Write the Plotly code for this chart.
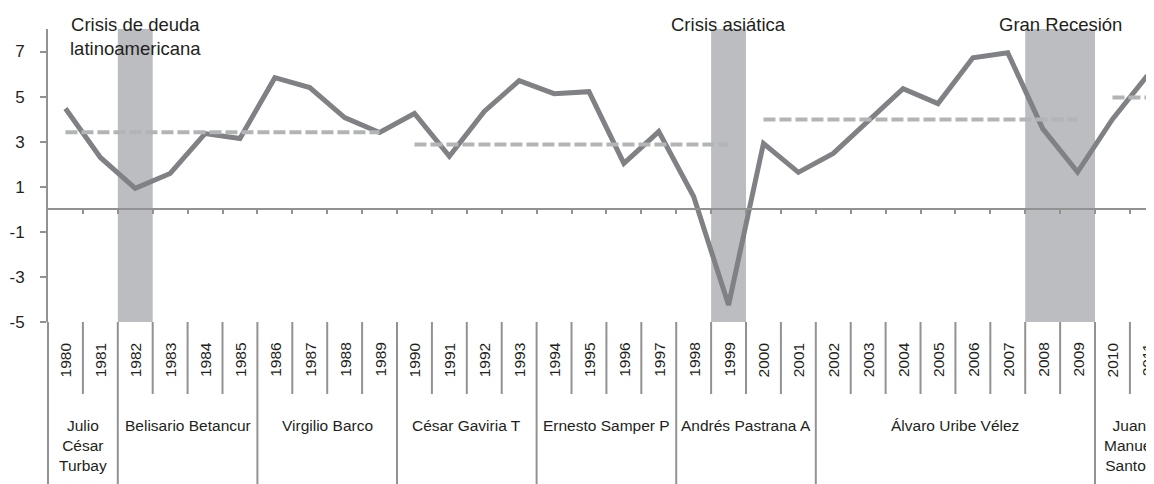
import plotly.graph_objects as go

# Crecimiento anual del PIB de Colombia (%)
years = list(range(1980, 2012))
growth = [4.47, 2.30, 0.93, 1.59, 3.36, 3.14, 5.84, 5.40, 4.07, 3.41,
          4.25, 2.35, 4.34, 5.71, 5.13, 5.22, 2.04, 3.45, 0.57, -4.25,
          2.92, 1.64, 2.48, 3.88, 5.35, 4.69, 6.72, 6.95, 3.58, 1.65,
          4.00, 5.93]

# promedios por decada (lineas punteadas)
decade_start = [1980, 1990, 2000, 2010]
decade_end = [1989, 1999, 2009, 2011]
decade_mean = [3.42, 2.88, 3.98, 4.96]

# crisis (franjas grises)
crisis_names = ["Crisis de deuda<br>latinoamericana", "Crisis asiática", "Gran Recesión"]
crisis_start = [1982, 1999, 2008]
crisis_end = [1982, 1999, 2009]

# presidentes
presidents = ["Julio<br>César<br>Turbay", "Belisario Betancur", "Virgilio Barco",
              "César Gaviria T", "Ernesto Samper P", "Andrés Pastrana A",
              "Álvaro Uribe Vélez", "Juan<br>Manuel<br>Santos"]
pres_start = [1980, 1982, 1986, 1990, 1994, 1998, 2002, 2010]
pres_end = [1981, 1985, 1989, 1993, 1997, 2001, 2009, 2011]

y_ticks = [-5, -3, -1, 1, 3, 5, 7]
y_ticklabels = ["-5", "-3", "-1", "1", "3", "5", "7"]

FONT = "Liberation Sans, Arial, sans-serif"
LINE_GRAY = "#808185"
AXIS_GRAY = "#929292"
TEXT = "#231f20"

fig = go.Figure()

fig.add_trace(go.Scatter(x=years, y=growth, mode="lines",
                         line=dict(color=LINE_GRAY, width=5), showlegend=False))

for s, e, m in zip(decade_start, decade_end, decade_mean):
    fig.add_trace(go.Scatter(x=[s, e], y=[m, m], mode="lines",
                             line=dict(color="#b3b4b6", width=4, dash="12px,4px"),
                             showlegend=False))

shapes = []
annotations = []

for name, s, e in zip(crisis_names, crisis_start, crisis_end):
    shapes.append(dict(type="rect", xref="x", yref="y", x0=s - 0.5, x1=e + 0.5,
                       y0=-5, y1=8, fillcolor="#bcbdc0", line=dict(width=0), layer="below"))
    annotations.append(dict(x=(s + e) / 2, xref="x", y=1.058, yref="paper",
                            xanchor="center", yanchor="top", text=name, showarrow=False,
                            align="center", font=dict(size=18.5, color=TEXT, family=FONT)))

# tabla inferior: anos y presidentes
Y_TOP = 0.0
Y_YEARS = -0.2457
Y_BOTTOM = -0.56
pres_bounds = [s - 0.5 for s in pres_start[1:]]
for y in years[:-1]:
    b = y + 0.5
    y_end = Y_BOTTOM if b in pres_bounds else Y_YEARS
    shapes.append(dict(type="line", xref="x", yref="paper", x0=b, x1=b,
                       y0=Y_TOP, y1=y_end, line=dict(color=AXIS_GRAY, width=2)))
shapes.append(dict(type="line", xref="paper", yref="paper", x0=0, x1=0,
                   y0=0, y1=Y_BOTTOM, line=dict(color=AXIS_GRAY, width=2)))

for y in years:
    annotations.append(dict(x=y, xref="x", y=-0.1297, yref="paper", text=str(y),
                            textangle=-90, showarrow=False, xanchor="center", yanchor="middle",
                            font=dict(size=15.5, color=TEXT, family=FONT)))

for name, s, e in zip(presidents, pres_start, pres_end):
    annotations.append(dict(x=(s + e) / 2, xref="x", y=-0.318, yref="paper", text=name,
                            showarrow=False, xanchor="center", yanchor="top", align="center",
                            font=dict(size=15.5, color=TEXT, family=FONT)))

# la pagina deja 8px de margen, por eso 1146x476
fig.update_layout(
    width=1146, height=476,
    margin=dict(l=40, r=0, t=21, b=162, pad=0),
    paper_bgcolor="white", plot_bgcolor="white",
    shapes=shapes, annotations=annotations,
    showlegend=False,
    font=dict(family=FONT, color=TEXT),
)

fig.update_xaxes(range=[1979.5, 2011.19], anchor="free", position=5 / 13,
                 showline=True, linecolor=AXIS_GRAY, linewidth=2,
                 tickvals=[y + 0.5 for y in years], ticks="outside", ticklen=4,
                 tickcolor=AXIS_GRAY, tickwidth=2, showticklabels=False,
                 showgrid=False, zeroline=False, automargin=False)

fig.update_yaxes(range=[-5, 8], tickvals=y_ticks, ticktext=y_ticklabels,
                 showline=True, linecolor=AXIS_GRAY,
                 linewidth=2, ticks="outside", ticklen=6, tickcolor=AXIS_GRAY, tickwidth=2,
                 ticklabelstandoff=12, tickfont=dict(size=17, color=TEXT, family=FONT),
                 showgrid=False, zeroline=False, automargin=False)

fig.write_html("out.html")
